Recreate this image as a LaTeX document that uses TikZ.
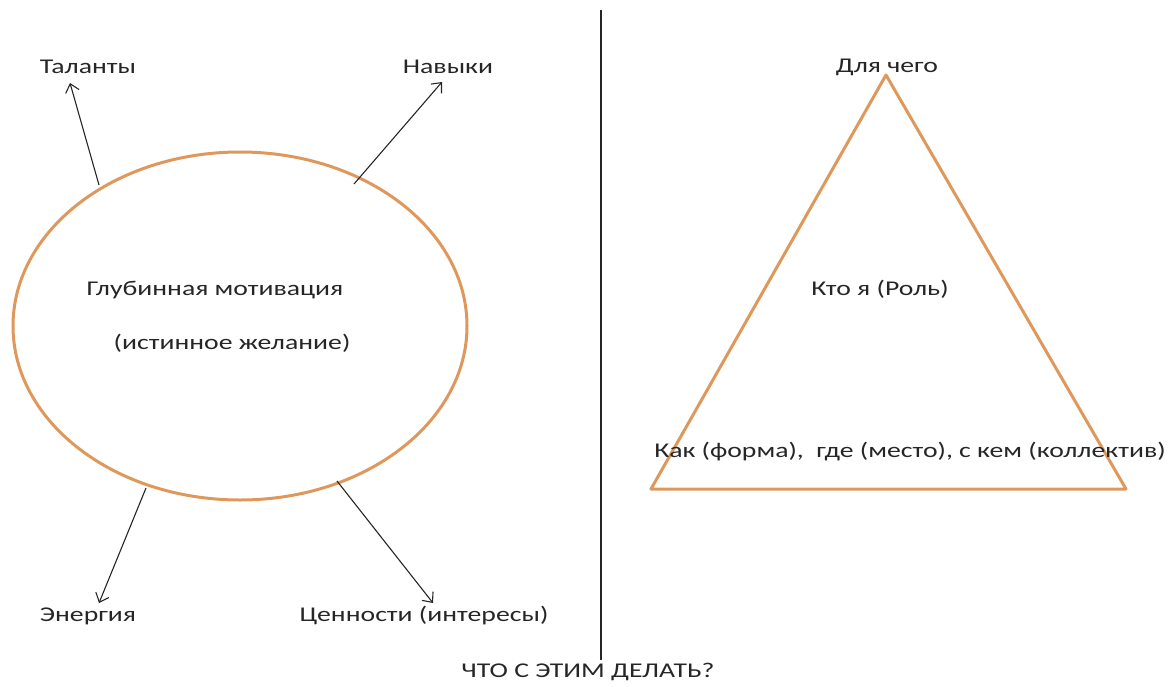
\documentclass[tikz,border=0pt]{standalone}
\usepackage{fontspec}
\setmainfont{Carlito}
\usetikzlibrary{arrows.meta,shapes.geometric}
\definecolor{ring}{RGB}{222,152,92}
\tikzset{
  lbl/.style={font=\fontsize{21}{24}\selectfont, text=black!85, inner sep=0pt, xscale=1.32},
  arr/.style={draw=black!85, line width=1.1pt, -{Straight Barb[length=8pt,width=14pt]}},
  shape line/.style={draw=ring, line width=3pt},
}
\begin{document}
\begin{tikzpicture}[x=1pt,y=-1pt]
\useasboundingbox (0,0) rectangle (1171,686);
% ellipse
\node[shape line, ellipse, minimum width=454pt, minimum height=348pt, inner sep=0pt] (ell) at (240,326) {};
% divider
\coordinate (dtop) at (601,10);
\coordinate (dbot) at (601,660);
\draw[line width=1.4pt, black!85] (dtop) -- (dbot);
% triangle
\coordinate (ta) at (886,75);
\coordinate (tl) at (651,489);
\coordinate (tr) at (1126,489);
\draw[shape line, line join=round] (ta) -- (tl) -- (tr) -- cycle;
% labels
\node[lbl] (tal) at (88,67) {Таланты};
\node[lbl] (nav) at (448,67) {Навыки};
\node[lbl] (ene) at (88,616) {Энергия};
\node[lbl] (cen) at (424,616) {Ценности (интересы)};
\node[lbl] (m1) at (215,290) {Глубинная мотивация};
\node[lbl] (m2) at (232,343) {(истинное желание)};
\node[lbl] (dl) at (887,67) {Для чего};
\node[lbl] (kto) at (880,289) {Кто я (Роль)};
\node[lbl] (kak) at (910,452) {Как (форма), \ где (место), с кем (коллектив)};
\node[lbl] (chto) at (588,672) {ЧТО С ЭТИМ ДЕЛАТЬ?};
% arrow endpoints
\coordinate (s1) at (99,185);
\coordinate (e1) at (70,83);
\coordinate (s2) at (354,184);
\coordinate (e2) at (442,82);
\coordinate (s3) at (146,488);
\coordinate (e3) at (99,603);
\coordinate (s4) at (337,481);
\coordinate (e4) at (433,603);
\draw[arr] (s1) -- (e1);
\draw[arr] (s2) -- (e2);
\draw[arr] (s3) -- (e3);
\draw[arr] (s4) -- (e4);
\end{tikzpicture}
\end{document}
